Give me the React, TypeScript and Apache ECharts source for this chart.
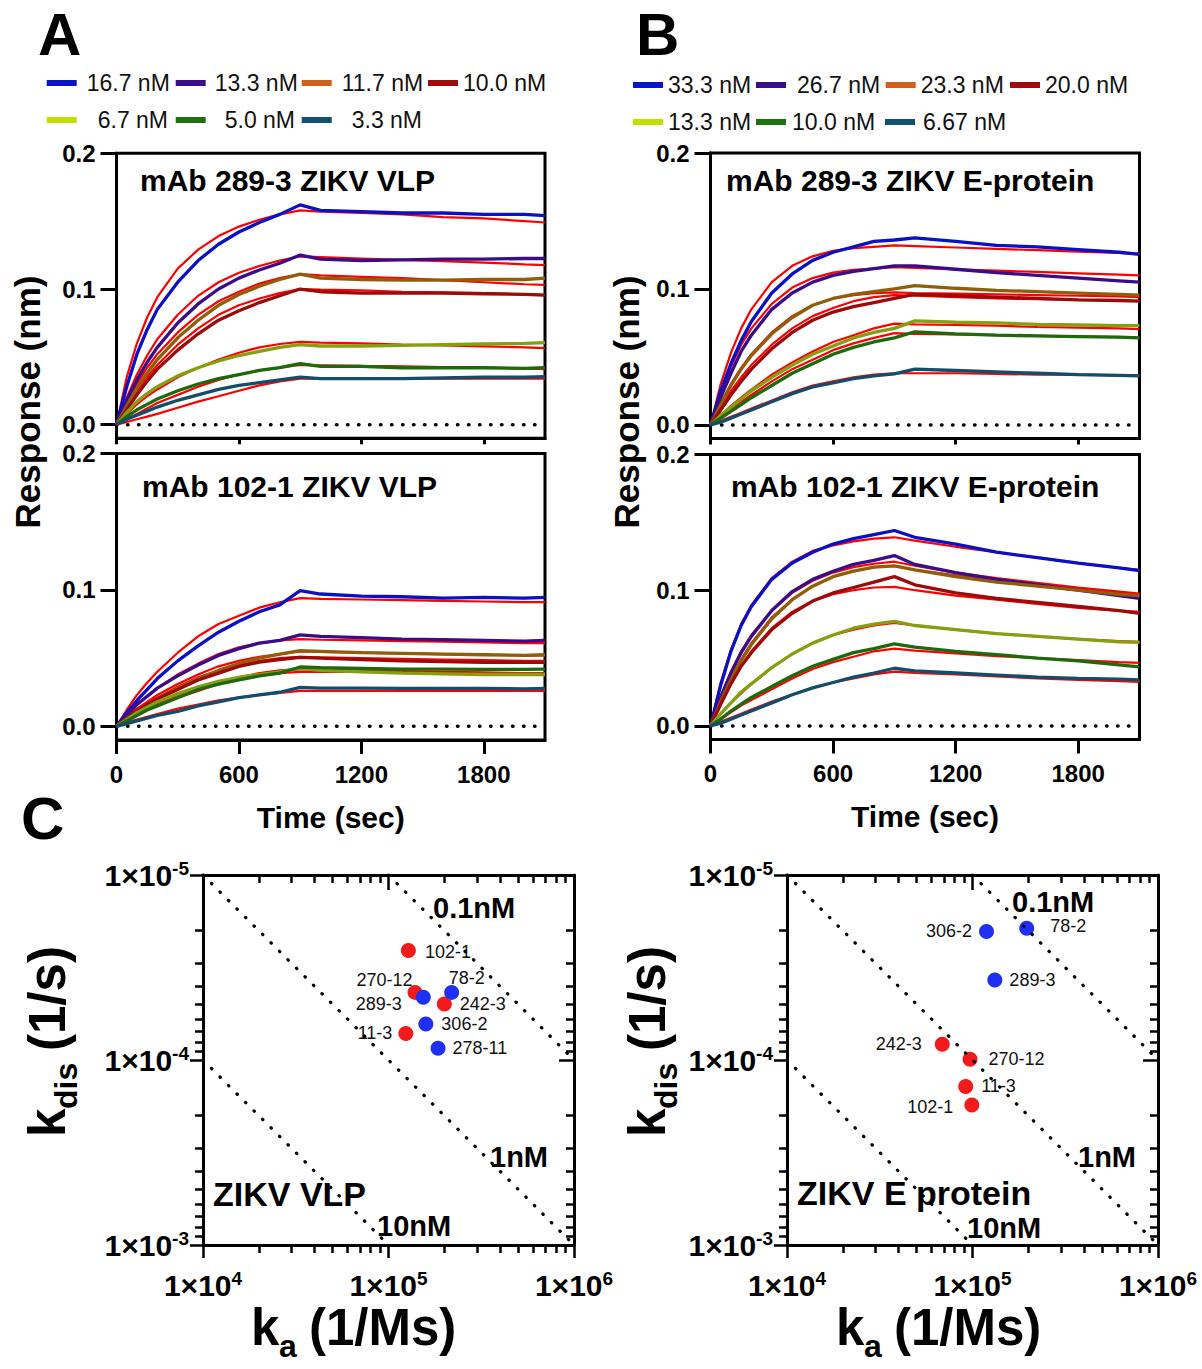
import React, { useEffect, useRef } from "react";
import * as echarts from "echarts";

const FONT = "'Liberation Sans', Arial, Helvetica, sans-serif";

// ---------- Kinetics data (A, B) ----------
const TIME_S = [0, 50, 100, 150, 200, 300, 400, 500, 600, 700, 800, 900, 1000, 1200, 1400, 1600, 1800, 2000, 2100];
const CONC_A = ["16.7 nM", "13.3 nM", "11.7 nM", "10.0 nM", "6.7 nM", "5.0 nM", "3.3 nM"];
const CONC_B = ["33.3 nM", "26.7 nM", "23.3 nM", "20.0 nM", "13.3 nM", "10.0 nM", "6.67 nM"];
const Y_TICKS = [0, 0.1, 0.2];
const X_TICKS = [0, 600, 1200, 1800];

const A_TOP_RESP = [
  [0, 0.028, 0.052, 0.07, 0.085, 0.105, 0.121, 0.133, 0.142, 0.149, 0.155, 0.162, 0.158, 0.157, 0.156, 0.156, 0.155, 0.155, 0.154],
  [0, 0.018, 0.033, 0.046, 0.057, 0.075, 0.089, 0.1, 0.108, 0.114, 0.119, 0.125, 0.122, 0.121, 0.1215, 0.122, 0.122, 0.1225, 0.1225],
  [0, 0.014, 0.027, 0.038, 0.048, 0.064, 0.077, 0.088, 0.096, 0.102, 0.107, 0.111, 0.108, 0.107, 0.1065, 0.1065, 0.107, 0.107, 0.108],
  [0, 0.011, 0.022, 0.032, 0.041, 0.055, 0.067, 0.077, 0.084, 0.09, 0.095, 0.1, 0.098, 0.097, 0.097, 0.097, 0.0965, 0.096, 0.0955],
  [0, 0.009, 0.017, 0.023, 0.028, 0.036, 0.042, 0.047, 0.051, 0.054, 0.057, 0.059, 0.058, 0.058, 0.0585, 0.059, 0.0595, 0.06, 0.0605],
  [0, 0.006, 0.011, 0.015, 0.019, 0.025, 0.03, 0.034, 0.037, 0.04, 0.042, 0.045, 0.043, 0.043, 0.042, 0.042, 0.042, 0.0415, 0.042],
  [0, 0.004, 0.007, 0.01, 0.013, 0.018, 0.022, 0.026, 0.029, 0.031, 0.033, 0.035, 0.034, 0.034, 0.034, 0.0345, 0.035, 0.035, 0.0355],
];
const A_TOP_FIT = [
  [0, 0.035, 0.06, 0.079, 0.094, 0.115, 0.129, 0.139, 0.146, 0.151, 0.155, 0.158, 0.157, 0.156, 0.155, 0.153, 0.152, 0.15, 0.149],
  [0, 0.02, 0.037, 0.051, 0.063, 0.081, 0.095, 0.105, 0.112, 0.117, 0.121, 0.124, 0.1235, 0.1225, 0.1215, 0.1205, 0.1195, 0.1182, 0.1176],
  [0, 0.016, 0.03, 0.042, 0.052, 0.068, 0.081, 0.091, 0.098, 0.104, 0.108, 0.111, 0.11, 0.109, 0.108, 0.1065, 0.105, 0.1035, 0.103],
  [0, 0.013, 0.025, 0.035, 0.044, 0.059, 0.071, 0.081, 0.088, 0.093, 0.097, 0.1, 0.0995, 0.099, 0.098, 0.0975, 0.097, 0.096, 0.0955],
  [0, 0.008, 0.015, 0.021, 0.026, 0.035, 0.042, 0.048, 0.053, 0.057, 0.0595, 0.061, 0.0605, 0.06, 0.059, 0.0585, 0.0578, 0.057, 0.0565],
  [0, 0.004, 0.008, 0.012, 0.016, 0.022, 0.028, 0.033, 0.037, 0.04, 0.042, 0.044, 0.0438, 0.0433, 0.043, 0.0425, 0.042, 0.0415, 0.041],
  [0, 0.002, 0.004, 0.006, 0.008, 0.0125, 0.017, 0.021, 0.025, 0.029, 0.032, 0.034, 0.034, 0.034, 0.034, 0.034, 0.034, 0.034, 0.034],
];
const A_BOT_RESP = [
  [0, 0.01, 0.019, 0.027, 0.035, 0.048, 0.059, 0.069, 0.077, 0.084, 0.089, 0.0995, 0.097, 0.0955, 0.095, 0.094, 0.0945, 0.094, 0.0945],
  [0, 0.008, 0.016, 0.022, 0.028, 0.037, 0.045, 0.052, 0.057, 0.061, 0.063, 0.067, 0.066, 0.065, 0.064, 0.0635, 0.063, 0.0625, 0.063],
  [0, 0.006, 0.011, 0.016, 0.02, 0.028, 0.035, 0.041, 0.046, 0.05, 0.053, 0.0555, 0.055, 0.054, 0.0535, 0.053, 0.0525, 0.052, 0.0525],
  [0, 0.006, 0.011, 0.016, 0.02, 0.027, 0.034, 0.039, 0.044, 0.047, 0.049, 0.0505, 0.05, 0.049, 0.048, 0.0475, 0.047, 0.047, 0.047],
  [0, 0.005, 0.01, 0.014, 0.018, 0.024, 0.029, 0.033, 0.036, 0.038, 0.04, 0.0425, 0.041, 0.04, 0.039, 0.0385, 0.038, 0.038, 0.038],
  [0, 0.004, 0.008, 0.012, 0.015, 0.021, 0.027, 0.031, 0.034, 0.037, 0.039, 0.0435, 0.043, 0.0425, 0.042, 0.042, 0.0418, 0.0418, 0.042],
  [0, 0.002, 0.004, 0.006, 0.008, 0.011, 0.015, 0.018, 0.021, 0.023, 0.025, 0.0285, 0.028, 0.028, 0.0278, 0.0278, 0.0278, 0.0275, 0.0278],
];
const A_BOT_FIT = [
  [0, 0.012, 0.023, 0.032, 0.04, 0.054, 0.066, 0.075, 0.081, 0.087, 0.091, 0.094, 0.0935, 0.093, 0.0925, 0.092, 0.0915, 0.091, 0.091],
  [0, 0.008, 0.016, 0.022, 0.028, 0.038, 0.046, 0.053, 0.058, 0.061, 0.063, 0.064, 0.0635, 0.063, 0.0625, 0.062, 0.0615, 0.061, 0.061],
  [0, 0.007, 0.013, 0.018, 0.023, 0.031, 0.038, 0.044, 0.048, 0.051, 0.053, 0.055, 0.0545, 0.054, 0.0535, 0.053, 0.0525, 0.052, 0.052],
  [0, 0.006, 0.012, 0.017, 0.021, 0.029, 0.036, 0.041, 0.045, 0.048, 0.05, 0.051, 0.0505, 0.05, 0.0495, 0.049, 0.0485, 0.048, 0.048],
  [0, 0.005, 0.009, 0.013, 0.017, 0.023, 0.029, 0.033, 0.036, 0.039, 0.041, 0.042, 0.0415, 0.041, 0.0405, 0.04, 0.0395, 0.039, 0.039],
  [0, 0.004, 0.008, 0.012, 0.015, 0.021, 0.026, 0.031, 0.034, 0.037, 0.039, 0.04, 0.04, 0.04, 0.0398, 0.0395, 0.039, 0.039, 0.0388],
  [0, 0.003, 0.005, 0.007, 0.009, 0.013, 0.016, 0.019, 0.021, 0.023, 0.0245, 0.026, 0.026, 0.026, 0.026, 0.026, 0.026, 0.026, 0.026],
];
const B_TOP_RESP = [
  [0, 0.025, 0.045, 0.062, 0.076, 0.097, 0.111, 0.121, 0.127, 0.131, 0.135, 0.136, 0.1375, 0.135, 0.132, 0.131, 0.129, 0.127, 0.1255],
  [0, 0.02, 0.038, 0.054, 0.066, 0.085, 0.097, 0.105, 0.11, 0.113, 0.115, 0.117, 0.117, 0.1145, 0.112, 0.11, 0.108, 0.106, 0.105],
  [0, 0.015, 0.029, 0.041, 0.051, 0.067, 0.079, 0.088, 0.093, 0.096, 0.098, 0.1, 0.1025, 0.1005, 0.099, 0.098, 0.097, 0.096, 0.0955],
  [0, 0.011, 0.022, 0.032, 0.041, 0.056, 0.068, 0.077, 0.083, 0.087, 0.09, 0.093, 0.096, 0.095, 0.094, 0.093, 0.092, 0.0915, 0.091],
  [0, 0.007, 0.013, 0.019, 0.025, 0.035, 0.044, 0.052, 0.058, 0.064, 0.068, 0.071, 0.0765, 0.0755, 0.075, 0.074, 0.0735, 0.073, 0.073],
  [0, 0.005, 0.01, 0.015, 0.02, 0.029, 0.038, 0.045, 0.052, 0.057, 0.061, 0.064, 0.0685, 0.067, 0.066, 0.0655, 0.065, 0.0645, 0.064],
  [0, 0.002, 0.005, 0.008, 0.011, 0.017, 0.023, 0.028, 0.031, 0.034, 0.036, 0.0375, 0.041, 0.04, 0.039, 0.038, 0.037, 0.0365, 0.036],
];
const B_TOP_FIT = [
  [0, 0.03, 0.053, 0.071, 0.085, 0.105, 0.117, 0.124, 0.128, 0.13, 0.131, 0.132, 0.1315, 0.1305, 0.1295, 0.1285, 0.1275, 0.1265, 0.126],
  [0, 0.024, 0.043, 0.059, 0.071, 0.089, 0.101, 0.108, 0.112, 0.114, 0.115, 0.116, 0.1155, 0.1145, 0.1135, 0.1125, 0.1115, 0.1105, 0.11],
  [0, 0.016, 0.03, 0.042, 0.052, 0.068, 0.08, 0.088, 0.093, 0.0955, 0.097, 0.0975, 0.097, 0.0965, 0.096, 0.0955, 0.095, 0.0945, 0.094],
  [0, 0.013, 0.025, 0.035, 0.044, 0.059, 0.071, 0.08, 0.086, 0.091, 0.094, 0.0955, 0.095, 0.094, 0.093, 0.0925, 0.092, 0.0915, 0.091],
  [0, 0.007, 0.014, 0.02, 0.026, 0.037, 0.046, 0.054, 0.061, 0.066, 0.071, 0.0745, 0.074, 0.0735, 0.073, 0.072, 0.0715, 0.071, 0.0705],
  [0, 0.006, 0.012, 0.017, 0.022, 0.032, 0.041, 0.048, 0.055, 0.06, 0.064, 0.0675, 0.067, 0.0665, 0.066, 0.0655, 0.065, 0.0645, 0.064],
  [0, 0.003, 0.006, 0.009, 0.012, 0.018, 0.024, 0.029, 0.032, 0.035, 0.037, 0.038, 0.038, 0.038, 0.0375, 0.037, 0.037, 0.0365, 0.0365],
];
const B_BOT_RESP = [
  [0, 0.03, 0.055, 0.074, 0.088, 0.108, 0.12, 0.128, 0.134, 0.138, 0.141, 0.144, 0.139, 0.134, 0.128, 0.124, 0.12, 0.1165, 0.1145],
  [0, 0.021, 0.039, 0.054, 0.066, 0.085, 0.099, 0.108, 0.114, 0.119, 0.122, 0.1255, 0.119, 0.113, 0.108, 0.104, 0.1, 0.096, 0.094],
  [0, 0.018, 0.034, 0.048, 0.06, 0.079, 0.093, 0.103, 0.11, 0.114, 0.117, 0.118, 0.115, 0.11, 0.106, 0.103, 0.1, 0.097, 0.096],
  [0, 0.016, 0.031, 0.044, 0.054, 0.071, 0.083, 0.092, 0.098, 0.102, 0.106, 0.11, 0.104, 0.098, 0.094, 0.091, 0.088, 0.085, 0.083],
  [0, 0.009, 0.017, 0.025, 0.031, 0.043, 0.053, 0.061, 0.067, 0.072, 0.075, 0.077, 0.074, 0.071, 0.068, 0.066, 0.064, 0.062, 0.0615],
  [0, 0.005, 0.011, 0.016, 0.021, 0.029, 0.037, 0.044, 0.049, 0.054, 0.057, 0.0605, 0.058, 0.055, 0.0525, 0.05, 0.048, 0.045, 0.0435],
  [0, 0.002, 0.005, 0.008, 0.011, 0.017, 0.023, 0.028, 0.032, 0.036, 0.039, 0.0425, 0.0405, 0.039, 0.0375, 0.036, 0.035, 0.0345, 0.034],
];
const B_BOT_FIT = [
  [0, 0.032, 0.056, 0.075, 0.089, 0.109, 0.121, 0.129, 0.133, 0.136, 0.138, 0.139, 0.1365, 0.132, 0.128, 0.124, 0.12, 0.1165, 0.115],
  [0, 0.022, 0.04, 0.055, 0.067, 0.085, 0.098, 0.107, 0.113, 0.117, 0.1195, 0.121, 0.118, 0.113, 0.109, 0.1055, 0.102, 0.099, 0.0975],
  [0, 0.019, 0.035, 0.049, 0.061, 0.08, 0.093, 0.103, 0.11, 0.114, 0.117, 0.118, 0.115, 0.111, 0.107, 0.104, 0.101, 0.0985, 0.097],
  [0, 0.016, 0.031, 0.044, 0.055, 0.072, 0.084, 0.092, 0.097, 0.1, 0.102, 0.1025, 0.1, 0.096, 0.093, 0.09, 0.087, 0.085, 0.084],
  [0, 0.009, 0.017, 0.024, 0.031, 0.043, 0.053, 0.061, 0.067, 0.071, 0.074, 0.076, 0.074, 0.071, 0.068, 0.066, 0.064, 0.0625, 0.062],
  [0, 0.005, 0.01, 0.015, 0.019, 0.027, 0.035, 0.042, 0.047, 0.051, 0.055, 0.057, 0.0555, 0.0535, 0.0515, 0.05, 0.0485, 0.047, 0.0465],
  [0, 0.003, 0.006, 0.009, 0.012, 0.018, 0.023, 0.028, 0.032, 0.035, 0.038, 0.04, 0.039, 0.038, 0.0365, 0.035, 0.034, 0.033, 0.0325],
];

// ---------- Affinity maps (C) ----------
const VLP_NAMES = ["102-1", "270-12", "289-3", "78-2", "242-3", "306-2", "11-3", "278-11"];
const VLP_KA = [1.28e5, 1.39e5, 1.54e5, 2.19e5, 2.0e5, 1.59e5, 1.24e5, 1.85e5];
const VLP_KDIS = [2.56e-5, 4.31e-5, 4.58e-5, 4.31e-5, 4.98e-5, 6.38e-5, 7.18e-5, 8.65e-5];
const VLP_GROUP = ["red", "red", "blue", "blue", "red", "blue", "red", "blue"];

const EP_NAMES = ["306-2", "78-2", "289-3", "242-3", "270-12", "11-3", "102-1"];
const EP_KA = [1.19e5, 1.96e5, 1.32e5, 6.87e4, 9.7e4, 9.19e4, 9.92e4];
const EP_KDIS = [2.02e-5, 1.94e-5, 3.7e-5, 8.22e-5, 9.9e-5, 1.39e-4, 1.75e-4];
const EP_GROUP = ["blue", "blue", "blue", "red", "red", "red", "red"];

const ISO_LABELS = ["0.1nM", "1nM", "10nM"];
const ISO_KA = [[1e5, 1e6], [1e4, 1e6], [1e4, 1e5]];
const ISO_KDIS = [[1e-5, 1e-4], [1e-5, 1e-3], [1e-4, 1e-3]];

// ---------- styles / layout ----------
const TRACE_COLORS = ["#0a10c6", "#3a0c8a", "#915d08", "#9c0a0a", "#84a010", "#1c6a0c", "#124e6c"];
const LEGEND_COLORS = ["#0a14c8", "#3a0c8c", "#d0601c", "#a00a0a", "#c0e000", "#1e7010", "#145070"];
const DOT_RED = "#f21a1a";
const DOT_BLUE = "#1f30f2";

// legend placement: [iconLeft, centerY, textPadLeft]
const LEG_A_POS = [[46.7, 83, 5], [175.7, 83, 4], [301.7, 83, 5], [428, 83, 0], [46.7, 120, 16], [175.7, 120, 14], [301.7, 120, 15]];
const LEG_B_POS = [[633, 85, 0], [756, 85, 6], [885.7, 85, 0], [1010, 85, 0], [633, 122, 0], [756, 122, 1], [885, 122, 3]];

// label placement for scatter points: [position, distance, offset]
const VLP_LBL = [["right", 9, [0, 1]], ["left", 5, [10, -12]], ["left", 14, [0, 7]], ["top", 0, [15, 2]], ["right", 8, [0, 0]], ["right", 8, [0, 0]], ["left", 6, [0, 0]], ["right", 7, [0, 0]]];
const EP_LBL = [["left", 7, [0, 0]], ["right", 16, [0, -2]], ["right", 7, [0, 0]], ["left", 13, [0, 0]], ["right", 11, [0, 0]], ["right", 8, [0, 0]], ["left", 11, [0, 2]]];

const BLACK = "#000";
const lineStyleAxis = { color: BLACK, width: 3 };

function kinX(grid: number, bottom: boolean) {
  return {
    type: "value", gridIndex: grid, min: 0, max: 2100, position: "bottom",
    axisLine: { show: true, onZero: false, lineStyle: lineStyleAxis },
    axisTick: { show: true, customValues: X_TICKS, length: bottom ? 14 : 6, lineStyle: { color: BLACK, width: 3 } },
    axisLabel: { show: bottom, customValues: X_TICKS, formatter: (v: number) => String(v), margin: 22, color: BLACK, fontFamily: FONT, fontWeight: "bold", fontSize: 24 },
    splitLine: { show: false },
    name: bottom ? "Time (sec)" : "", nameLocation: "middle", nameGap: 62,
    nameTextStyle: { color: BLACK, fontFamily: FONT, fontWeight: "bold", fontSize: 30 },
  };
}
function kinY(grid: number) {
  return {
    type: "value", gridIndex: grid, min: -0.01, max: 0.2,
    axisLine: { show: true, onZero: false, lineStyle: lineStyleAxis },
    axisTick: { show: true, customValues: Y_TICKS, length: 16, lineStyle: { color: BLACK, width: 3 } },
    axisLabel: { customValues: Y_TICKS, formatter: (v: number) => v.toFixed(1), margin: 21, color: BLACK, fontFamily: FONT, fontWeight: "bold", fontSize: 24 },
    splitLine: { show: false },
  };
}

const MINOR_KA = [4, 5].flatMap((d) => [2, 3, 4, 5, 6, 7, 8, 9].map((k) => d + Math.log10(k)));
const MINOR_KDIS = [-5, -4].flatMap((d) => [2, 3, 4, 5, 6, 7, 8, 9].map((k) => d + Math.log10(k)));

const sciRich = {
  b: { fontFamily: FONT, fontWeight: "bold", fontSize: 30, color: BLACK, lineHeight: 32 },
  s: { fontFamily: FONT, fontWeight: "bold", fontSize: 19, color: BLACK, verticalAlign: "top", lineHeight: 20 },
};
const sciFmt = (v: number) => `{b|1×10}{s|${Math.round(Math.log10(v))}}`;

function cXMain(grid: number, top: boolean) {
  return {
    type: "log", logBase: 10, gridIndex: grid, min: 1e4, max: 1e6, position: top ? "top" : "bottom",
    axisLine: { show: true, onZero: false, lineStyle: lineStyleAxis },
    axisTick: { show: true, inside: top, length: top ? 15 : 13, lineStyle: { color: BLACK, width: 2.5 } },
    axisLabel: { show: !top, formatter: sciFmt, rich: sciRich, margin: 24 },
    splitLine: { show: false }, minorTick: { show: false }, minorSplitLine: { show: false },
  };
}
function cXMinor(grid: number, top: boolean) {
  return {
    type: "value", gridIndex: grid, min: 4, max: 6, position: top ? "top" : "bottom",
    axisLine: { show: false, onZero: false },
    axisTick: { show: true, inside: top, customValues: MINOR_KA, length: 8, lineStyle: { color: BLACK, width: 2.5 } },
    axisLabel: { show: false }, splitLine: { show: false },
  };
}
function cYMain(grid: number, right: boolean) {
  return {
    type: "log", logBase: 10, gridIndex: grid, min: 1e-5, max: 1e-3, inverse: true, position: right ? "right" : "left",
    axisLine: { show: true, onZero: false, lineStyle: lineStyleAxis },
    axisTick: { show: true, inside: right, length: right ? 15 : 13, lineStyle: { color: BLACK, width: 2.5 } },
    axisLabel: { show: !right, formatter: sciFmt, rich: sciRich, margin: 14 },
    splitLine: { show: false }, minorTick: { show: false }, minorSplitLine: { show: false },
  };
}
function cYMinor(grid: number, right: boolean) {
  return {
    type: "value", gridIndex: grid, min: -5, max: -3, inverse: true, position: right ? "right" : "left",
    axisLine: { show: false, onZero: false },
    axisTick: { show: true, inside: right, customValues: MINOR_KDIS, length: 8, lineStyle: { color: BLACK, width: 2.5 } },
    axisLabel: { show: false }, splitLine: { show: false },
  };
}

function kinSeries(prefix: string, concs: string[], resp: number[][], fit: number[][], g: number) {
  const out: any[] = [];
  out.push({
    type: "line", name: "zero", xAxisIndex: g, yAxisIndex: g, silent: true, symbol: "none",
    data: [[0, 0], [2100, 0]],
    lineStyle: { color: BLACK, width: 3.5, type: [0.5, 10.5], cap: "round" }, z: 1,
  });
  fit.forEach((row) => {
    out.push({
      type: "line", name: "fit", xAxisIndex: g, yAxisIndex: g, silent: true, symbol: "none",
      data: TIME_S.map((t, j) => [t, row[j]]),
      lineStyle: { color: "#ff0000", width: 2.2 }, z: 2,
    });
  });
  resp.forEach((row, i) => {
    out.push({
      type: "line", name: prefix + concs[i], xAxisIndex: g, yAxisIndex: g, silent: true, symbol: "none",
      data: TIME_S.map((t, j) => [t, row[j]]),
      lineStyle: { color: TRACE_COLORS[i], width: 3.3 }, itemStyle: { color: TRACE_COLORS[i] }, z: 3,
    });
  });
  return out;
}

function scatterSeries(names: string[], ka: number[], kdis: number[], group: string[], lbl: any[], g: number) {
  const mk = (color: string, key: string) => ({
    type: "scatter", xAxisIndex: g, yAxisIndex: g, symbolSize: 15, silent: true, z: 3,
    itemStyle: { color, opacity: 1 },
    label: { show: true, formatter: "{b}", fontFamily: FONT, fontSize: 18, color: "#111" },
    data: names
      .map((n, i) => ({ i, n }))
      .filter((o) => group[o.i] === key)
      .map((o) => ({
        name: o.n, value: [ka[o.i], kdis[o.i]],
        label: { position: lbl[o.i][0], distance: lbl[o.i][1], offset: lbl[o.i][2] },
      })),
  });
  const iso = ISO_KA.map((kaPair, k) => ({
    type: "line", name: ISO_LABELS[k], xAxisIndex: g, yAxisIndex: g, silent: true, symbol: "none", z: 5,
    data: [[kaPair[0], ISO_KDIS[k][0]], [kaPair[1], ISO_KDIS[k][1]]],
    lineStyle: { color: BLACK, width: 3.2, type: [0.5, 11.5], cap: "round" },
  }));
  return [mk(DOT_RED, "red"), mk(DOT_BLUE, "blue"), ...iso];
}

function legends(prefix: string, concs: string[], pos: number[][]) {
  return concs.map((c, i) => ({
    left: pos[i][0], top: pos[i][1] - 12, padding: 0, orient: "horizontal",
    itemWidth: 30, itemHeight: 6, icon: "rect", selectedMode: false,
    data: [{ name: prefix + c, itemStyle: { color: LEGEND_COLORS[i] }, lineStyle: { color: LEGEND_COLORS[i], width: 6 } }],
    formatter: (n: string) => n.split("|")[1],
    textStyle: { fontFamily: FONT, fontSize: 23, color: "#111", lineHeight: 24, padding: [0, 0, 0, pos[i][2]] },
  }));
}

const txt = (text: string, x: number, y: number, size: number, weight = "bold", align = "left", rotation = 0) => ({
  type: "text", x, y, rotation, silent: true,
  style: { text, fontFamily: FONT, fontSize: size, fontWeight: weight, fill: BLACK, align, verticalAlign: "middle" },
});

function kLabel(x: number, y: number, sub: string, subW: number, rest: string, rotation: number) {
  const base = { fontFamily: FONT, fontWeight: "bold", fill: BLACK, align: "left", verticalAlign: "bottom" };
  return {
    type: "group", x, y, rotation, silent: true,
    children: [
      { type: "text", x: 0, y: 0, style: { ...base, text: "k", fontSize: 51 } },
      { type: "text", x: 28, y: 9, style: { ...base, text: sub, fontSize: 32 } },
      { type: "text", x: 28 + subW + 12, y: 0, style: { ...base, text: rest, fontSize: 51 } },
    ],
  };
}

function buildOption() {
  const grids = [
    { left: 116.5, top: 153.3, width: 428.5, height: 285 },
    { left: 116.5, top: 453.5, width: 428.5, height: 286.5 },
    { left: 710.5, top: 153, width: 429, height: 285.5 },
    { left: 710.5, top: 454.5, width: 429, height: 285 },
    { left: 203, top: 875, width: 371, height: 370 },
    { left: 787, top: 875, width: 371, height: 370 },
  ].map((g, i) => ({ ...g, containLabel: false, show: i < 4, borderColor: BLACK, borderWidth: 3, backgroundColor: "transparent" }));

  const xAxis = [
    kinX(0, false), kinX(1, true), kinX(2, false), kinX(3, true),
    cXMain(4, false), cXMain(5, false), cXMinor(4, false), cXMinor(4, true), cXMain(4, true),
    cXMinor(5, false), cXMinor(5, true), cXMain(5, true),
  ];
  const yAxis = [
    kinY(0), kinY(1), kinY(2), kinY(3),
    cYMain(4, false), cYMain(5, false), cYMinor(4, false), cYMinor(4, true), cYMain(4, true),
    cYMinor(5, false), cYMinor(5, true), cYMain(5, true),
  ];

  const series = [
    ...kinSeries("A|", CONC_A, A_TOP_RESP, A_TOP_FIT, 0),
    ...kinSeries("A|", CONC_A, A_BOT_RESP, A_BOT_FIT, 1),
    ...kinSeries("B|", CONC_B, B_TOP_RESP, B_TOP_FIT, 2),
    ...kinSeries("B|", CONC_B, B_BOT_RESP, B_BOT_FIT, 3),
    ...scatterSeries(VLP_NAMES, VLP_KA, VLP_KDIS, VLP_GROUP, VLP_LBL, 4),
    ...scatterSeries(EP_NAMES, EP_KA, EP_KDIS, EP_GROUP, EP_LBL, 5),
  ];

  const graphic = [
    txt("A", 38, 34, 60),
    txt("B", 636, 34, 60),
    txt("C", 21, 818, 60),
    txt("Response (nm)", 27, 402, 35, "bold", "center", Math.PI / 2),
    txt("Response (nm)", 626, 402, 35, "bold", "center", Math.PI / 2),
    txt("mAb 289-3 ZIKV VLP", 140, 180, 30),
    txt("mAb 102-1 ZIKV VLP", 142, 486, 30),
    txt("mAb 289-3 ZIKV E-protein", 726, 180, 30),
    txt("mAb 102-1 ZIKV E-protein", 731, 486, 30),
    txt(ISO_LABELS[0], 433, 908, 29),
    txt(ISO_LABELS[1], 490, 1157, 29),
    txt(ISO_LABELS[2], 377, 1226, 29),
    txt(ISO_LABELS[0], 1012, 902, 29),
    txt(ISO_LABELS[1], 1078, 1157, 29),
    txt(ISO_LABELS[2], 967, 1228, 29),
    txt("ZIKV VLP", 213, 1194, 34),
    txt("ZIKV E protein", 797, 1193, 34),
    kLabel(72.5, 1137, "dis", 46, "(1/s)", Math.PI / 2),
    kLabel(672.5, 1137, "dis", 46, "(1/s)", Math.PI / 2),
    kLabel(251, 1353, "a", 18, "(1/Ms)", 0),
    kLabel(836, 1353, "a", 18, "(1/Ms)", 0),
  ];

  return {
    animation: false,
    backgroundColor: "#fff",
    grid: grids,
    xAxis,
    yAxis,
    legend: [...legends("A|", CONC_A, LEG_A_POS), ...legends("B|", CONC_B, LEG_B_POS)],
    series,
    graphic,
  };
}

export default function App() {
  const ref = useRef<HTMLDivElement>(null);
  useEffect(() => {
    if (!ref.current) return;
    const chart = echarts.init(ref.current, undefined, { renderer: "svg" });
    chart.setOption(buildOption() as any);
    return () => chart.dispose();
  }, []);
  return <div ref={ref} style={{ position: "absolute", left: 0, top: 0, width: 1202, height: 1369, background: "#fff" }} />;
}
